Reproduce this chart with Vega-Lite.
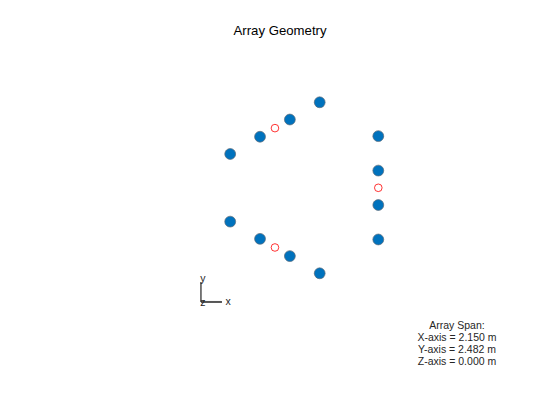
{
  "$schema": "https://vega.github.io/schema/vega-lite/v6.json",
  "width": 560,
  "height": 420,
  "autosize": "none",
  "padding": 0,
  "background": "white",
  "config": {"view": {"stroke": null}, "font": "Liberation Sans"},
  "title": {"text": "Array Geometry", "anchor": "middle", "frame": "group", "offset": -38, "fontSize": 13.2, "fontWeight": "normal", "font": "Liberation Sans", "color": "#000000"},
  "datasets": {
    "elements": [
      {"x": 1.0, "y": -0.75}, {"x": 1.0, "y": -0.25}, {"x": 1.0, "y": 0.25}, {"x": 1.0, "y": 0.75},
      {"x": -1.1495, "y": 0.491}, {"x": -0.7165, "y": 0.741}, {"x": -0.2835, "y": 0.991}, {"x": 0.1495, "y": 1.241},
      {"x": -1.1495, "y": -0.491}, {"x": -0.7165, "y": -0.741}, {"x": -0.2835, "y": -0.991}, {"x": 0.1495, "y": -1.241}
    ],
    "refs": [
      {"x": 1.0, "y": 0.0}, {"x": -0.5, "y": 0.866}, {"x": -0.5, "y": -0.866}
    ],
    "triad": [
      {"x": -1.574, "y": -1.657, "x2": -1.269, "y2": -1.657, "w": 2, "c": "#555555"},
      {"x": -1.574, "y": -1.657, "x2": -1.574, "y2": -1.367, "w": 1.2, "c": "#222222"}
    ],
    "triadLabels": [
      {"x": -1.18, "y": -1.66, "label": "x"},
      {"x": -1.545, "y": -1.33, "label": "y"},
      {"x": -1.545, "y": -1.67, "label": "z"}
    ],
    "span": [
      {"x": 2.142, "y": -2.0, "label": "Array Span:\nX-axis = 2.150 m\nY-axis = 2.482 m\nZ-axis = 0.000 m"}
    ]
  },
  "layer": [
    {
      "data": {"name": "triad"},
      "mark": {"type": "rule"},
      "encoding": {
        "x": {"field": "x", "type": "quantitative", "scale": {"domain": [-4.4906, 3.6372], "nice": false, "zero": false}, "axis": null},
        "y": {"field": "y", "type": "quantitative", "scale": {"domain": [-3.3701, 2.7257], "nice": false, "zero": false}, "axis": null},
        "x2": {"field": "x2"},
        "y2": {"field": "y2"},
        "strokeWidth": {"field": "w", "type": "quantitative", "scale": null, "legend": null},
        "color": {"field": "c", "type": "nominal", "scale": null, "legend": null}
      }
    },
    {
      "data": {"name": "triadLabels"},
      "mark": {"type": "text", "fontSize": 10.5, "color": "#262626", "align": "center", "baseline": "middle"},
      "encoding": {
        "x": {"field": "x", "type": "quantitative"},
        "y": {"field": "y", "type": "quantitative"},
        "text": {"field": "label"}
      }
    },
    {
      "data": {"name": "elements"},
      "mark": {"type": "point", "shape": "circle", "filled": true, "size": 118, "fill": "#0072BD", "fillOpacity": 1, "stroke": "#5c6a78", "strokeWidth": 0.7, "opacity": 1},
      "encoding": {
        "x": {"field": "x", "type": "quantitative"},
        "y": {"field": "y", "type": "quantitative"}
      }
    },
    {
      "data": {"name": "refs"},
      "mark": {"type": "point", "shape": "circle", "filled": false, "size": 58, "stroke": "#FF0000", "strokeWidth": 0.8, "opacity": 1},
      "encoding": {
        "x": {"field": "x", "type": "quantitative"},
        "y": {"field": "y", "type": "quantitative"}
      }
    },
    {
      "data": {"name": "span"},
      "mark": {"type": "text", "lineBreak": "\n", "fontSize": 10.5, "color": "#262626", "align": "center", "baseline": "middle", "lineHeight": 12},
      "encoding": {
        "x": {"field": "x", "type": "quantitative"},
        "y": {"field": "y", "type": "quantitative"},
        "text": {"field": "label"}
      }
    }
  ]
}
